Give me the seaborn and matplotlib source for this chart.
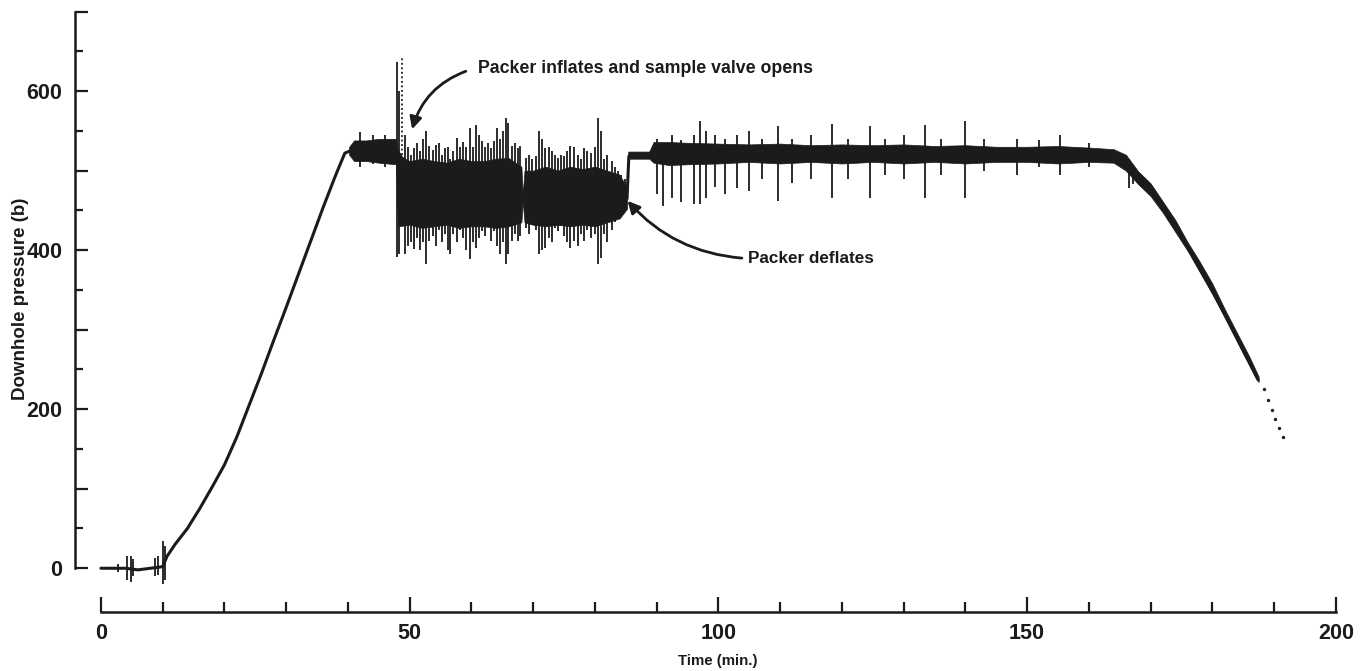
import matplotlib
matplotlib.use("Agg")
import matplotlib.pyplot as plt
import seaborn as sns

# ---- data (time in min, pressure in b) ----
trace_t = [0, 2, 4, 6, 8, 10, 10.7, 12, 14, 16, 18, 20, 22, 24, 26, 28, 30, 32, 34, 36, 38, 39.5,
           41, 44, 47, 48, 52, 60, 68, 76, 84, 85.2, 85.5, 89, 95, 100, 110, 120, 130, 140, 150,
           160, 164, 166, 168, 170, 173.6, 176.4, 179.6, 182.3, 184.9, 187.4]
trace_p = [0, 0, 0, -2, 0, 2, 15, 30, 50, 75, 102, 130, 165, 205, 245, 287, 328, 370, 412, 454, 494, 522,
           527, 525, 525, 525, 475, 472, 472, 468, 466, 465, 518, 520, 523, 522, 521, 520, 521, 520, 521,
           519, 517, 510, 490, 476, 434, 399, 354, 316, 275, 237]

band_t = [40.2, 41, 43, 45, 47.8, 48.1, 50, 52, 54, 56, 58, 60, 62, 64, 66, 68.1, 68.3, 68.6, 70, 72,
          74, 76, 78, 80, 82, 84, 85.2, 85.4, 88.8, 89.5, 92, 95, 100, 105, 110, 115, 120, 125, 130,
          135, 140, 145, 150, 155, 160, 164, 166, 168, 170, 172, 174, 176, 178, 180, 182, 184, 186, 187.5]
band_lo = [520, 512, 512, 510, 508, 430, 432, 428, 430, 432, 428, 430, 430, 428, 430, 435, 462, 435, 432, 430,
           432, 430, 432, 430, 435, 440, 452, 515, 515, 510, 507, 508, 509, 511, 509, 511, 509, 511, 509,
           511, 509, 511, 511, 509, 511, 510, 500, 483, 468, 447, 423, 399, 372, 345, 315, 285, 256, 234]
band_hi = [530, 538, 538, 540, 540, 520, 512, 515, 512, 510, 515, 512, 512, 515, 516, 505, 470, 500, 500, 505,
           500, 505, 502, 505, 500, 495, 478, 524, 524, 536, 536, 535, 534, 533, 534, 532, 533, 532, 533,
           531, 532, 530, 530, 531, 529, 527, 520, 499, 484, 461, 438, 410, 385, 358, 326, 296, 266, 241]

spike_t = [2.8, 4.3, 4.8, 5.2, 8.7, 9.2, 10.1, 10.4, 42, 44, 46,
           48.0, 48.3, 49.3, 49.7, 50.2, 50.7, 51.2, 51.7, 52.2, 52.7, 53.2, 53.7, 54.2, 54.7, 55.2,
           55.7, 56.2, 56.6, 57.1, 57.6, 58.1, 58.6, 59.1, 59.7, 60.2, 60.7, 61.2, 61.7, 62.2, 62.7,
           63.2, 63.7, 64.1, 64.6, 65.1, 65.6, 66.0, 66.5, 67.0, 67.5, 67.9, 68.8, 69.3, 69.8, 70.4,
           70.9, 71.4, 72.0, 72.5, 73.0, 73.5, 74.0, 74.5, 75.0, 75.5, 76.0, 76.6, 77.2, 77.7, 78.3,
           78.8, 79.4, 80.0, 80.5, 81.0, 81.5, 82.0, 82.7, 83.2, 83.7, 84.3, 84.8,
           90, 91, 92.5, 94, 96, 97, 98, 99.5, 101, 103, 105, 107, 109.7, 112, 115, 118.4, 121,
           124.5, 127, 130, 133.4, 136, 140, 143, 148.3, 152, 155.3, 160, 166.5, 167.2]
spike_lo = [-5, -15, -17, -10, -10, -8, -20, -15, 505, 508, 505,
            392, 395, 395, 405, 410, 402, 415, 400, 410, 382, 412, 418, 405, 425, 410,
            420, 400, 395, 420, 410, 425, 415, 400, 389, 410, 403, 415, 424, 418, 430,
            412, 424, 405, 395, 410, 382, 395, 412, 420, 412, 418, 428, 420, 432, 425,
            395, 400, 403, 415, 410, 428, 424, 430, 418, 410, 403, 412, 405, 420, 412,
            425, 415, 420, 382, 390, 420, 410, 425, 435, 440, 445, 450,
            470, 455, 465, 460, 458, 458, 465, 480, 470, 478, 475, 490, 462, 485, 490, 466, 490,
            465, 495, 490, 466, 495, 466, 500, 495, 505, 495, 505, 478, 483]
spike_hi = [5, 15, 16, 12, 13, 15, 34, 28, 548, 545, 545,
            637, 600, 545, 530, 520, 528, 535, 525, 540, 550, 531, 526, 532, 535, 520,
            528, 530, 515, 525, 541, 530, 536, 530, 554, 530, 558, 545, 537, 530, 535,
            528, 537, 554, 540, 550, 566, 560, 531, 535, 528, 531, 516, 520, 515, 518,
            550, 540, 528, 530, 525, 520, 516, 520, 518, 525, 531, 530, 520, 515, 528,
            525, 522, 530, 566, 550, 515, 520, 512, 505, 500, 495, 490,
            540, 535, 545, 538, 545, 562, 550, 545, 540, 545, 550, 540, 556, 540, 545, 559, 540,
            556, 540, 545, 558, 540, 562, 540, 540, 538, 545, 535, 515, 505]

dotted_t = [48.7]
dotted_lo = [520]
dotted_hi = [642]

tail_t = [188.3, 189.0, 189.6, 190.2, 190.8, 191.4]
tail_p = [225, 212, 199, 188, 176, 165]

x_major = [0, 50, 100, 150, 200]
y_major = [0, 100, 200, 300, 400, 500, 600, 700]
y_labels = ["0", "", "200", "", "400", "", "600", ""]

# ---- styling ----
sns.set_theme(style="white")
plt.rcParams["font.family"] = ["Liberation Sans", "DejaVu Sans"]
plt.rcParams["font.weight"] = "bold"
ink = "#1b1b1b"

fig = plt.figure(figsize=(13.61, 6.71), dpi=100)
ax = fig.add_axes([75 / 1361, 1 - 612 / 671, 1267 / 1361, 602 / 671])

ax.fill_between(band_t, band_lo, band_hi, color=ink, lw=0.5)
ax.vlines(spike_t, spike_lo, spike_hi, color=ink, lw=1.3)
ax.vlines(dotted_t, dotted_lo, dotted_hi, color=ink, lw=1.3, linestyles=(0, (1, 1.5)))
sns.lineplot(x=trace_t, y=trace_p, color=ink, lw=2.2, ax=ax, sort=False)
sns.scatterplot(x=tail_t, y=tail_p, color=ink, s=5, edgecolor=None, ax=ax)

ax.set_xlim(-4.2, 201)
ax.set_ylim(-55, 702)

ax.set_xticks(x_major)
ax.set_xticklabels([str(v) for v in x_major])
ax.set_xticks(list(range(0, 201, 10)), minor=True)
ax.set_yticks(y_major)
ax.set_yticklabels(y_labels)
ax.set_yticks(list(range(50, 700, 100)), minor=True)

sns.despine(ax=ax)
for side in ("left", "bottom"):
    ax.spines[side].set_color(ink)
    ax.spines[side].set_linewidth(1.8)
ax.spines["left"].set_bounds(0, 700)
ax.spines["bottom"].set_bounds(0, 200)

ax.tick_params(axis="both", which="both", bottom=True, left=True, top=False, right=False,
               colors=ink, labelcolor=ink, labelsize=15.5)
ax.tick_params(axis="x", which="major", direction="in", length=11, width=1.6, pad=8)
ax.tick_params(axis="x", which="minor", direction="in", length=7, width=1.6)
ax.tick_params(axis="y", which="major", direction="in", length=9, width=1.6, pad=9)
ax.tick_params(axis="y", which="minor", direction="in", length=6, width=1.6)
for lab in ax.get_xticklabels() + ax.get_yticklabels():
    lab.set_fontweight("bold")

ax.set_xlabel("Time (min.)", fontsize=10.8, fontweight="bold", color=ink)
ax.set_ylabel("Downhole pressure (b)", fontsize=13.5, fontweight="bold", color=ink)
ax.xaxis.set_label_coords(0.5075, -0.069)
ax.yaxis.set_label_coords(-0.036, 0.52)

arrow = dict(arrowstyle="-|>", color=ink, lw=2.0, mutation_scale=18, shrinkA=0, shrinkB=0)
ax.annotate("", xy=(50.4, 552), xytext=(59.1, 625),
            arrowprops=dict(arrow, connectionstyle="arc3,rad=0.25"))
ax.text(61.0, 629, "Packer inflates and sample valve opens", fontsize=12.8, fontweight="bold",
        color=ink, ha="left", va="center")
ax.annotate("", xy=(85.3, 462), xytext=(103.8, 390),
            arrowprops=dict(arrow, connectionstyle="arc3,rad=-0.2"))
ax.text(104.8, 389, "Packer deflates", fontsize=12.3, fontweight="bold",
        color=ink, ha="left", va="center")

fig.savefig("out.png", dpi=100, facecolor="white")
